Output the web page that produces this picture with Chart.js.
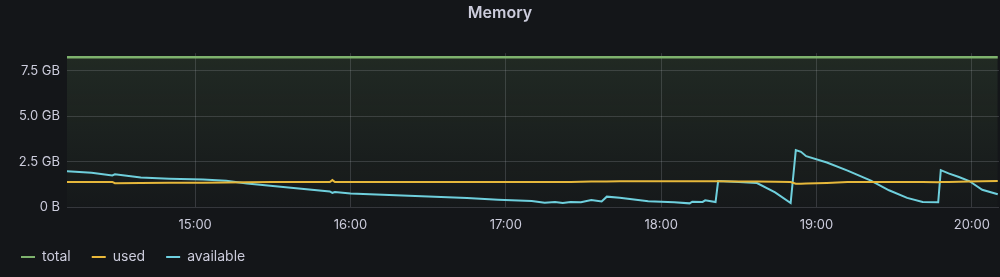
<!DOCTYPE html>
<html>
<head>
<meta charset="utf-8">
<script src="https://cdn.jsdelivr.net/npm/chart.js@4"></script>
<style>
  html, body { margin: 0; padding: 0; background: #141619; }
  #wrap { width: 1000px; height: 277px; }
</style>
</head>
<body>
<div id="wrap"><canvas id="memory-chart"></canvas></div>
<script>
// sample times (HH:MM), values in GB
const times = ['14:10', '14:20', '14:28', '14:29', '14:39', '14:50', '15:03', '15:12', '15:20', '15:30',
  '15:40', '15:52', '15:53', '15:54', '16:00', '16:15', '16:30', '16:45', '16:57', '17:10',
  '17:15', '17:19', '17:22', '17:25', '17:29', '17:33', '17:37', '17:39', '17:44', '17:55',
  '18:05', '18:11', '18:12', '18:16', '18:17', '18:21', '18:22', '18:30', '18:37', '18:44',
  '18:50', '18:52', '18:54', '18:56', '19:04', '19:12', '19:21', '19:28', '19:35', '19:41',
  '19:47', '19:48', '19:51', '19:55', '19:59', '20:04', '20:10'];
const used = [1.38, 1.38, 1.38, 1.31, 1.32, 1.33, 1.34, 1.35, 1.36, 1.37,
  1.37, 1.37, 1.48, 1.37, 1.37, 1.37, 1.37, 1.37, 1.37, 1.38,
  1.38, 1.38, 1.38, 1.38, 1.39, 1.40, 1.41, 1.41, 1.42, 1.42,
  1.42, 1.42, 1.42, 1.42, 1.42, 1.42, 1.42, 1.41, 1.40, 1.39,
  1.38, 1.28, 1.28, 1.29, 1.32, 1.37, 1.38, 1.37, 1.37, 1.37,
  1.36, 1.37, 1.38, 1.39, 1.40, 1.42, 1.43];
const available = [1.98, 1.88, 1.74, 1.80, 1.62, 1.56, 1.52, 1.45, 1.30, 1.16,
  1.02, 0.86, 0.78, 0.82, 0.74, 0.66, 0.58, 0.50, 0.40, 0.33,
  0.24, 0.28, 0.22, 0.27, 0.26, 0.38, 0.30, 0.57, 0.51, 0.32,
  0.26, 0.20, 0.29, 0.28, 0.37, 0.27, 1.43, 1.38, 1.32, 0.80,
  0.22, 3.13, 3.04, 2.80, 2.45, 2.00, 1.45, 0.92, 0.50, 0.28,
  0.26, 2.03, 1.85, 1.65, 1.43, 0.95, 0.70];
const total = times.map(() => 8.25);

const yTicks = [0, 2.5, 5, 7.5];
const xTicks = ['15:00', '16:00', '17:00', '18:00', '19:00', '20:00'];

const toMin = (s) => { const p = s.split(':'); return +p[0] * 60 + +p[1]; };
const pad2 = (n) => String(n).padStart(2, '0');
const pts = (vals) => times.map((t, i) => ({ x: toMin(t), y: vals[i] }));

const ctx = document.getElementById('memory-chart');
const textColor = '#ccccdc';
const gridColor = 'rgba(204, 204, 220, 0.18)';

function greenFill(context) {
  const area = context.chart.chartArea;
  if (!area) return 'rgba(126,178,109,0.1)';
  const g = context.chart.ctx.createLinearGradient(0, area.top, 0, area.bottom);
  g.addColorStop(0, 'rgba(126,178,109,0.13)');
  g.addColorStop(1, 'rgba(126,178,109,0.02)');
  return g;
}

new Chart(ctx, {
  type: 'line',
  data: {
    datasets: [
      { label: 'total', data: pts(total), borderColor: '#7eb26d', backgroundColor: greenFill, fill: 'origin', borderWidth: 2.5 },
      { label: 'used', data: pts(used), borderColor: '#eab839', backgroundColor: '#eab839', fill: false, borderWidth: 2 },
      { label: 'available', data: pts(available), borderColor: '#6ed0e0', backgroundColor: '#6ed0e0', fill: false, borderWidth: 2 },
    ],
  },
  options: {
    responsive: true,
    maintainAspectRatio: false,
    animation: false,
    elements: { point: { radius: 0 }, line: { tension: 0 } },
    layout: { padding: { left: 0, right: 0, top: 0, bottom: 3 } },
    plugins: {
      title: {
        display: true,
        text: 'Memory',
        color: textColor,
        font: { family: 'Inter', size: 16, weight: '600' },
        padding: { top: 4, bottom: 30 },
      },
      legend: {
        position: 'bottom',
        align: 'start',
        labels: {
          color: textColor,
          font: { family: 'Inter', size: 14 },
          generateLabels: (chart) => chart.data.datasets.map((ds, i) => ({
            text: ds.label,
            fillStyle: ds.borderColor,
            strokeStyle: ds.borderColor,
            lineWidth: 0,
            fontColor: textColor,
            datasetIndex: i,
            hidden: false,
          })),
          boxWidth: 14,
          boxHeight: 2,
          padding: 21,
        },
      },
      tooltip: { enabled: false },
    },
    scales: {
      x: {
        type: 'linear',
        min: toMin('14:10') + 0.5,
        max: toMin('20:10') + 0.5,
        afterBuildTicks: (axis) => { axis.ticks = xTicks.map((t) => ({ value: toMin(t) })); },
        ticks: {
          color: textColor,
          font: { family: 'Inter', size: 13 },
          maxRotation: 0,
          padding: 10,
          callback: (v) => pad2(Math.floor(v / 60)) + ':' + pad2(v % 60),
        },
        grid: { color: gridColor, drawTicks: false },
        border: { display: false },
        afterFit: (scale) => { scale.height = 22; },
      },
      y: {
        min: 0,
        max: 8.47,
        afterBuildTicks: (axis) => { axis.ticks = yTicks.map((v) => ({ value: v })); },
        ticks: {
          color: textColor,
          font: { family: 'Inter', size: 13 },
          padding: 7,
          callback: (v) => (v === 0 ? '0 B' : v.toFixed(1) + ' GB'),
        },
        grid: { color: gridColor, drawTicks: false },
        border: { display: false },
        afterFit: (scale) => { scale.width = 67; },
      },
    },
  },
});
</script>
</body>
</html>
